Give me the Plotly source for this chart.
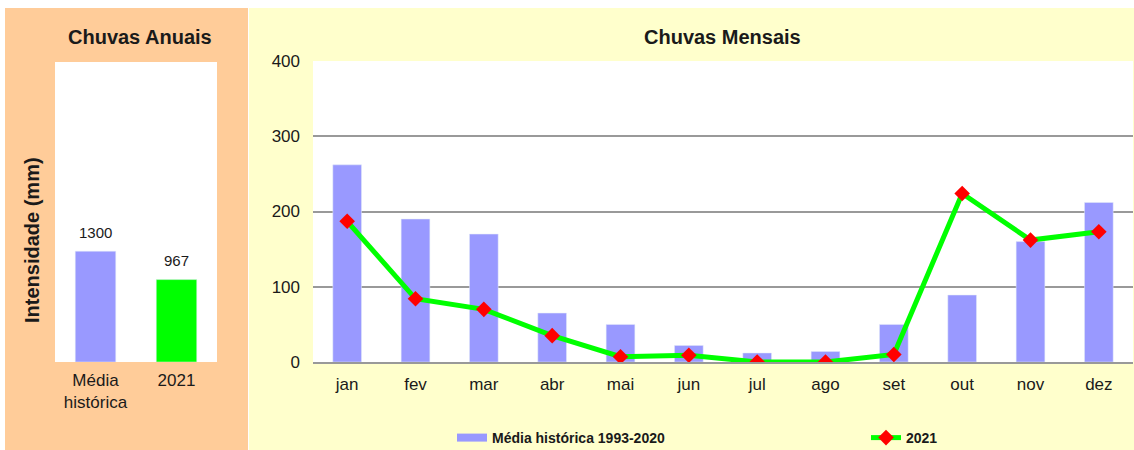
import plotly.graph_objects as go

W, H = 1134, 450

# annual totals
anual_labels = ['Média<br>histórica', '2021']
anual_values = [1300, 967]
anual_colors = ['#9999FF', '#00FF00']

# monthly
meses = ['jan', 'fev', 'mar', 'abr', 'mai', 'jun', 'jul', 'ago', 'set', 'out', 'nov', 'dez']
media_historica = [262, 190, 170, 65, 50, 22, 12, 14, 50, 89, 160, 212]
chuva_2021 = [187, 84, 70, 35, 7, 9, 0, 0, 10, 224, 162, 173]

FONT = 'Liberation Sans, Arial, sans-serif'
TXT = '#1a1a1a'
GRID = '#999999'


def px(x):
    return x / W


def py(y):
    return (H - y) / H


fig = go.Figure()

# left panel: annual
fig.add_bar(x=anual_labels, y=anual_values, marker_color=anual_colors, width=0.5,
            showlegend=False, xaxis='x', yaxis='y')
for i, v in enumerate(anual_values):
    # category index, so the "2021" label is not read as a number
    fig.add_annotation(x=i, y=v, xref='x', yref='y', text=str(v), showarrow=False,
                       yshift=19, font=dict(family=FONT, size=15, color=TXT))

# right panel: monthly
fig.add_bar(x=meses, y=media_historica, marker_color='#9999FF', width=0.42,
            name='Média histórica 1993-2020', showlegend=False, xaxis='x2', yaxis='y2')
# legend swatch for the bars (wide flat bar like the original)
fig.add_scatter(x=[None], y=[None], mode='lines', line=dict(color='#9999FF', width=8),
                name='Média histórica 1993-2020', xaxis='x2', yaxis='y2', legend='legend')
fig.add_scatter(x=meses, y=chuva_2021, mode='lines+markers', name='2021',
                line=dict(color='#00FF00', width=5),
                marker=dict(symbol='diamond', color='#FF0000', size=12),
                xaxis='x2', yaxis='y2', legend='legend2')

leg_font = dict(family=FONT, size=14, color=TXT, weight='bold')

fig.update_layout(
    width=W, height=H,
    margin=dict(l=0, r=0, t=0, b=0, autoexpand=False),
    paper_bgcolor='white', plot_bgcolor='white',
    font=dict(family=FONT, size=17, color=TXT),
    xaxis=dict(domain=[px(55), px(217)], type='category', range=[-0.5, 1.5], showgrid=False,
               zeroline=False, showline=False, ticks='', tickfont=dict(size=17),
               ticklabelstandoff=6),
    yaxis=dict(domain=[py(362), py(62)], range=[0, 3520], showgrid=False, zeroline=False,
               showticklabels=False, ticks=''),
    xaxis2=dict(domain=[px(313), px(1133)], anchor='y2', type='category', range=[-0.5, 11.5],
                showgrid=False, zeroline=False, showline=True, linecolor=GRID, linewidth=1.5,
                ticks='', tickfont=dict(size=17), ticklabelstandoff=6),
    yaxis2=dict(domain=[py(362), py(61)], anchor='x2', range=[0, 400], dtick=100,
                showgrid=True, gridcolor=GRID, gridwidth=1.5, zeroline=False,
                ticks='', tickfont=dict(size=17), ticklabelstandoff=12),
    legend=dict(orientation='h', x=px(452), xanchor='left', y=py(438), yanchor='middle',
                bgcolor='rgba(0,0,0,0)', font=leg_font, itemclick=False),
    legend2=dict(orientation='h', x=px(866), xanchor='left', y=py(438), yanchor='middle',
                 bgcolor='rgba(0,0,0,0)', font=leg_font, itemclick=False),
    shapes=[
        # panel backgrounds
        dict(type='rect', xref='paper', yref='paper', x0=px(5), x1=px(248), y0=0, y1=py(8),
             fillcolor='#FFCC99', line_width=0, layer='below'),
        dict(type='rect', xref='paper', yref='paper', x0=px(249), x1=1, y0=0, y1=py(8),
             fillcolor='#FFFFCC', line_width=0, layer='below'),
        # white plot areas on top of the panels
        dict(type='rect', xref='x domain', yref='y domain', x0=0, x1=1, y0=0, y1=1,
             fillcolor='white', line_width=0, layer='below'),
        dict(type='rect', xref='x2 domain', yref='y2 domain', x0=0, x1=1, y0=0, y1=1,
             fillcolor='white', line_width=0, layer='below'),
    ],
)

fig.add_annotation(x=px(140), y=py(37), xref='paper', yref='paper', text='<b>Chuvas Anuais</b>',
                   xanchor='center', yanchor='middle', showarrow=False, font=dict(size=20))
fig.add_annotation(x=px(722), y=py(37), xref='paper', yref='paper', text='<b>Chuvas Mensais</b>',
                   xanchor='center', yanchor='middle', showarrow=False, font=dict(size=20))
fig.add_annotation(x=px(32), y=py(240), xref='paper', yref='paper', text='<b>Intensidade (mm)</b>',
                   xanchor='center', yanchor='middle', textangle=-90, showarrow=False,
                   font=dict(size=20))

# page body has an 8px default margin; drop it so the figure sits at the corner
fig.write_html('out.html', config={'displayModeBar': False},
               post_script="document.body.style.margin='0';")
